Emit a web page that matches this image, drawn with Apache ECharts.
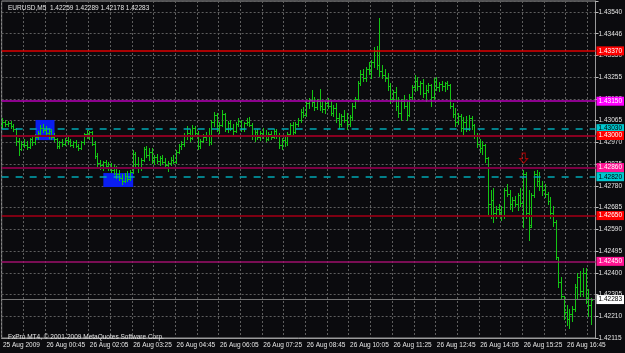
<!DOCTYPE html>
<html>
<head>
<meta charset="utf-8">
<script src="https://cdn.jsdelivr.net/npm/echarts@6/dist/echarts.min.js"></script>
<style>
  html, body { margin: 0; padding: 0; background: #0b0b0e; }
  #chart { width: 625px; height: 353px; }
</style>
</head>
<body>
<div id="chart"></div>
<script>
const symbolName = 'EURUSD,M5';
const copyright = 'FxPro MT4, \u00a9 2001-2009 MetaQuotes Software Corp.';

// one label every 16 bars (80 min of M5), first bar is 25 Aug 23:25
const timeLabels = ['25 Aug 2009', '26 Aug 00:45', '26 Aug 02:05', '26 Aug 03:25', '26 Aug 04:45',
  '26 Aug 06:05', '26 Aug 07:25', '26 Aug 08:45', '26 Aug 10:05', '26 Aug 11:25', '26 Aug 12:45',
  '26 Aug 14:05', '26 Aug 15:25', '26 Aug 16:45'];
const slotCount = 219;

const priceLabels = ['1.42115', '1.42210', '1.42305', '1.42400', '1.42495', '1.42590', '1.42685',
  '1.42780', '1.42875', '1.42970', '1.43065', '1.43160', '1.43255', '1.43350', '1.43446', '1.43540'];

// [open, high, low, close]
const ohlc = [
  [1.43046,1.43077,1.43033,1.43059],[1.43059,1.43068,1.43040,1.43050],[1.43050,1.43064,1.43042,1.43055],
  [1.43055,1.43062,1.43035,1.43040],[1.43040,1.43050,1.43020,1.43028],[1.43028,1.43035,1.42960,1.42975],
  [1.42975,1.42990,1.42915,1.42940],[1.42940,1.42975,1.42935,1.42965],[1.42965,1.42985,1.42950,1.42960],
  [1.42960,1.42975,1.42940,1.42950],[1.42950,1.42990,1.42945,1.42985],[1.42985,1.43000,1.42960,1.42970],
  [1.42970,1.43005,1.42965,1.42995],[1.42995,1.43020,1.42985,1.43010],[1.43010,1.43045,1.43000,1.43035],
  [1.43035,1.43050,1.43015,1.43025],[1.43025,1.43040,1.43000,1.43010],[1.43010,1.43035,1.42990,1.43020],
  [1.43020,1.43030,1.42985,1.42995],[1.42995,1.43010,1.42975,1.42985],[1.42985,1.42990,1.42945,1.42955],
  [1.42955,1.42975,1.42945,1.42970],[1.42970,1.42985,1.42955,1.42965],[1.42965,1.42990,1.42960,1.42980],
  [1.42980,1.42995,1.42965,1.42975],[1.42975,1.42985,1.42955,1.42960],[1.42960,1.42975,1.42950,1.42970],
  [1.42970,1.42980,1.42950,1.42955],[1.42955,1.42965,1.42935,1.42945],[1.42945,1.42975,1.42940,1.42970],
  [1.42970,1.43010,1.42965,1.43005],[1.43005,1.43025,1.42990,1.43000],[1.43000,1.43020,1.42985,1.43015],
  [1.43015,1.43020,1.42960,1.42965],[1.42965,1.42975,1.42900,1.42910],[1.42910,1.42925,1.42865,1.42880],
  [1.42880,1.42895,1.42855,1.42870],[1.42870,1.42890,1.42850,1.42885],[1.42885,1.42895,1.42860,1.42865],
  [1.42865,1.42885,1.42850,1.42875],[1.42875,1.42880,1.42840,1.42850],[1.42850,1.42870,1.42830,1.42860],
  [1.42860,1.42865,1.42815,1.42830],[1.42830,1.42850,1.42805,1.42815],[1.42815,1.42830,1.42790,1.42800],
  [1.42800,1.42835,1.42795,1.42825],[1.42825,1.42845,1.42800,1.42810],[1.42810,1.42850,1.42805,1.42840],
  [1.42840,1.42935,1.42835,1.42920],[1.42920,1.42930,1.42860,1.42875],[1.42875,1.42905,1.42840,1.42860],
  [1.42860,1.42900,1.42850,1.42895],[1.42895,1.42950,1.42890,1.42940],[1.42940,1.42955,1.42905,1.42915],
  [1.42915,1.42945,1.42895,1.42930],[1.42930,1.42945,1.42880,1.42895],[1.42895,1.42915,1.42875,1.42905],
  [1.42905,1.42920,1.42880,1.42890],[1.42890,1.42910,1.42870,1.42900],[1.42900,1.42915,1.42880,1.42885],
  [1.42885,1.42900,1.42860,1.42870],[1.42870,1.42890,1.42845,1.42880],[1.42880,1.42905,1.42870,1.42895],
  [1.42895,1.42915,1.42880,1.42885],[1.42885,1.42935,1.42880,1.42930],[1.42930,1.42965,1.42925,1.42955],
  [1.42955,1.42975,1.42940,1.42965],[1.42965,1.43010,1.42955,1.43000],[1.43000,1.43040,1.42985,1.43010],
  [1.43010,1.43030,1.42975,1.42990],[1.42990,1.43045,1.42985,1.43035],[1.43035,1.43040,1.43000,1.43010],
  [1.43010,1.43020,1.42940,1.42955],[1.42955,1.42985,1.42945,1.42975],[1.42975,1.43005,1.42970,1.42995],
  [1.42995,1.43015,1.42980,1.43000],[1.43000,1.43035,1.42960,1.42970],[1.42970,1.43070,1.42965,1.43060],
  [1.43060,1.43105,1.43040,1.43090],[1.43090,1.43100,1.43020,1.43035],[1.43035,1.43060,1.43010,1.43045],
  [1.43045,1.43110,1.43040,1.43095],[1.43095,1.43100,1.43020,1.43030],[1.43030,1.43065,1.43015,1.43055],
  [1.43055,1.43070,1.43025,1.43035],[1.43035,1.43050,1.43005,1.43020],[1.43020,1.43060,1.43015,1.43050],
  [1.43050,1.43075,1.43040,1.43065],[1.43065,1.43070,1.43020,1.43030],[1.43030,1.43060,1.43020,1.43055],
  [1.43055,1.43075,1.43045,1.43060],[1.43060,1.43080,1.43040,1.43045],[1.43045,1.43055,1.42985,1.43000],
  [1.43000,1.43025,1.42975,1.43015],[1.43015,1.43030,1.42985,1.42995],[1.42995,1.43020,1.42980,1.43010],
  [1.43010,1.43035,1.42990,1.43000],[1.43000,1.43025,1.42975,1.42985],[1.42985,1.43015,1.42980,1.43005],
  [1.43005,1.43020,1.42985,1.42995],[1.42995,1.43030,1.42990,1.43020],[1.43020,1.43030,1.42990,1.43000],
  [1.43000,1.43010,1.42945,1.42960],[1.42960,1.42990,1.42940,1.42980],[1.42980,1.43000,1.42955,1.42970],
  [1.42970,1.43015,1.42960,1.43005],[1.43005,1.43055,1.43000,1.43045],[1.43045,1.43060,1.43000,1.43015],
  [1.43015,1.43060,1.43010,1.43050],[1.43050,1.43075,1.43040,1.43070],[1.43070,1.43115,1.43060,1.43105],
  [1.43105,1.43125,1.43080,1.43090],[1.43090,1.43150,1.43085,1.43140],[1.43140,1.43165,1.43120,1.43155],
  [1.43155,1.43200,1.43130,1.43145],[1.43145,1.43170,1.43110,1.43125],[1.43125,1.43160,1.43115,1.43150],
  [1.43150,1.43205,1.43110,1.43130],[1.43130,1.43150,1.43105,1.43115],[1.43115,1.43150,1.43100,1.43140],
  [1.43140,1.43165,1.43120,1.43130],[1.43130,1.43150,1.43090,1.43100],[1.43100,1.43135,1.43085,1.43120],
  [1.43120,1.43140,1.43060,1.43075],[1.43075,1.43100,1.43035,1.43050],[1.43050,1.43095,1.43040,1.43085],
  [1.43085,1.43110,1.43060,1.43070],[1.43070,1.43100,1.43030,1.43050],[1.43050,1.43090,1.43040,1.43080],
  [1.43080,1.43140,1.43070,1.43130],[1.43130,1.43170,1.43120,1.43160],[1.43160,1.43240,1.43150,1.43230],
  [1.43230,1.43285,1.43220,1.43270],[1.43270,1.43290,1.43240,1.43250],[1.43250,1.43300,1.43240,1.43290],
  [1.43290,1.43320,1.43270,1.43280],[1.43280,1.43330,1.43250,1.43320],[1.43320,1.43385,1.43300,1.43370],
  [1.43370,1.43390,1.43290,1.43310],[1.43310,1.43514,1.43260,1.43280],[1.43280,1.43310,1.43250,1.43265],
  [1.43265,1.43290,1.43240,1.43250],[1.43250,1.43275,1.43200,1.43215],[1.43215,1.43230,1.43140,1.43160],
  [1.43160,1.43200,1.43150,1.43190],[1.43190,1.43210,1.43110,1.43130],[1.43130,1.43170,1.43080,1.43100],
  [1.43100,1.43160,1.43070,1.43150],[1.43150,1.43175,1.43120,1.43130],[1.43130,1.43150,1.43070,1.43090],
  [1.43090,1.43180,1.43085,1.43170],[1.43170,1.43220,1.43160,1.43210],[1.43210,1.43265,1.43195,1.43240],
  [1.43240,1.43255,1.43200,1.43215],[1.43215,1.43240,1.43180,1.43230],[1.43230,1.43245,1.43170,1.43185],
  [1.43185,1.43220,1.43150,1.43200],[1.43200,1.43230,1.43190,1.43220],[1.43220,1.43225,1.43130,1.43170],
  [1.43170,1.43250,1.43160,1.43240],[1.43240,1.43255,1.43200,1.43210],[1.43210,1.43235,1.43195,1.43225],
  [1.43225,1.43240,1.43200,1.43215],[1.43215,1.43235,1.43195,1.43230],[1.43230,1.43240,1.43205,1.43220],
  [1.43220,1.43225,1.43120,1.43130],[1.43130,1.43140,1.43080,1.43095],[1.43095,1.43120,1.43040,1.43060],
  [1.43060,1.43100,1.43050,1.43085],[1.43085,1.43095,1.43020,1.43035],[1.43035,1.43080,1.43000,1.43060],
  [1.43060,1.43085,1.43020,1.43030],[1.43030,1.43090,1.43025,1.43075],[1.43075,1.43085,1.43030,1.43045],
  [1.43045,1.43050,1.42990,1.43000],[1.43000,1.43010,1.42950,1.42965],[1.42965,1.42985,1.42930,1.42945],
  [1.42945,1.42975,1.42920,1.42960],[1.42960,1.42965,1.42885,1.42900],[1.42900,1.42905,1.42650,1.42700],
  [1.42700,1.42760,1.42640,1.42720],[1.42720,1.42770,1.42620,1.42660],[1.42660,1.42690,1.42640,1.42680],
  [1.42680,1.42700,1.42650,1.42665],[1.42665,1.42690,1.42630,1.42650],[1.42650,1.42770,1.42640,1.42760],
  [1.42760,1.42790,1.42735,1.42745],[1.42745,1.42760,1.42680,1.42700],[1.42700,1.42730,1.42670,1.42720],
  [1.42720,1.42735,1.42690,1.42700],[1.42700,1.42750,1.42675,1.42740],[1.42740,1.42770,1.42690,1.42705],
  [1.42705,1.42850,1.42600,1.42830],[1.42830,1.42840,1.42640,1.42660],[1.42660,1.42760,1.42545,1.42600],
  [1.42610,1.42750,1.42600,1.42740],[1.42740,1.42845,1.42730,1.42830],[1.42830,1.42850,1.42780,1.42800],
  [1.42800,1.42840,1.42760,1.42780],[1.42780,1.42800,1.42740,1.42760],[1.42760,1.42790,1.42730,1.42745],
  [1.42745,1.42755,1.42700,1.42715],[1.42715,1.42730,1.42640,1.42660],[1.42660,1.42690,1.42605,1.42620],
  [1.42620,1.42630,1.42460,1.42470],[1.42470,1.42470,1.42340,1.42360],[1.42360,1.42380,1.42285,1.42300],
  [1.42300,1.42300,1.42200,1.42230],[1.42230,1.42260,1.42170,1.42200],[1.42200,1.42240,1.42160,1.42220],
  [1.42220,1.42255,1.42190,1.42240],[1.42240,1.42350,1.42235,1.42340],[1.42340,1.42400,1.42290,1.42380],
  [1.42380,1.42410,1.42300,1.42320],[1.42320,1.42420,1.42300,1.42400],[1.42400,1.42420,1.42270,1.42290],
  [1.42290,1.42330,1.42210,1.42259],[1.42259,1.42289,1.42178,1.42283]
];

// horizontal levels drawn on the chart
const levelPrices = [1.43370, 1.43150, 1.43030, 1.43000, 1.42860, 1.42820, 1.42650, 1.42450, 1.42283];
const levelLineColors = ['#e00000', '#b800b8', '#00a8b4', '#880020', '#7a0042', '#00a8b4', '#7e0012', '#a0106c', '#747474'];
const levelLineTypes = ['solid', 'solid', [7, 7], 'solid', 'solid', [7, 7], 'solid', 'solid', 'solid'];
const levelLineWidths = [1.5, 1.5, 1.5, 2, 2, 1.5, 2, 1.5, 1.2];
const levelBoxColors = ['#ff0000', '#ff00ff', '#00c8d0', '#ff0000', '#ff1493', '#00c8d0', '#ff0000', '#ff1493', '#ffffff'];
const levelTextColors = ['#ffffff', '#ffffff', '#000000', '#ffffff', '#ffffff', '#000000', '#ffffff', '#ffffff', '#000000'];

// blue rectangles: [from bar, to bar, top price, bottom price]
const boxes = [[12, 19, 1.43068, 1.42980], [37, 48, 1.42836, 1.42775]];
// sell arrow
const arrowBar = 192;
const arrowPrice = 1.42901;

const cats = Array.from({ length: slotCount }, (_, i) => String(i));
const barData = ohlc.map((r, i) => [i, r[0], r[1], r[2], r[3]]);
const last = ohlc[ohlc.length - 1];
const header = symbolName + '  ' + last.map(v => v.toFixed(5)).join(' ');

const barColor = '#14c414';
const txt = '#e4e4e4';
const font = 'Liberation Sans';

function renderBar(params, api) {
  const idx = api.value(0);
  const px = api.coord([idx, api.value(2)]);
  const n = Math.floor(px[0]);
  const yO = Math.round(api.coord([idx, api.value(1)])[1]) + 0.5;
  const yH = Math.round(px[1]);
  const yL = Math.round(api.coord([idx, api.value(3)])[1]) + 1;
  const yC = Math.round(api.coord([idx, api.value(4)])[1]) + 0.5;
  const style = { stroke: barColor, lineWidth: 1 };
  return {
    type: 'group',
    children: [
      { type: 'line', shape: { x1: n + 0.5, y1: yH, x2: n + 0.5, y2: yL }, style: style },
      { type: 'line', shape: { x1: n - 1, y1: yO, x2: n, y2: yO }, style: style },
      { type: 'line', shape: { x1: n + 1, y1: yC, x2: n + 2, y2: yC }, style: style }
    ]
  };
}

const chart = echarts.init(document.getElementById('chart'));
chart.setOption({
  animation: false,
  backgroundColor: '#0b0b0e',
  title: [
    { text: header, left: 3, top: 0, textStyle: { color: txt, fontSize: 6.5, fontWeight: 'normal', fontFamily: font } },
    { text: copyright, left: 3, top: 329, textStyle: { color: txt, fontSize: 6.5, fontWeight: 'normal', fontFamily: font } }
  ],
  grid: { left: 1, right: 29, top: 1, bottom: 15, show: true, borderColor: '#9a9a9a', borderWidth: 1 },
  xAxis: {
    type: 'category',
    data: cats,
    boundaryGap: true,
    axisLine: { show: true, lineStyle: { color: '#9a9a9a' } },
    axisTick: { show: false },
    axisLabel: {
      interval: 15, color: txt, fontSize: 6.5, fontFamily: font, align: 'left', margin: 4,
      formatter: (v, i) => timeLabels[i / 16] || ''
    },
    splitLine: { show: true, interval: 7, lineStyle: { color: '#5e5e5e', type: [2, 2] } }
  },
  yAxis: {
    type: 'value',
    position: 'right',
    min: 1.42115,
    max: 1.43588,
    interval: 0.00095,
    axisLine: { show: true, lineStyle: { color: '#9a9a9a' } },
    axisTick: { show: true, length: 3, lineStyle: { color: '#bdbdbd' } },
    axisLabel: {
      color: txt, fontSize: 6.5, fontFamily: font, margin: 3,
      formatter: (v, i) => priceLabels[i] || ''
    },
    splitLine: { show: true, lineStyle: { color: '#5e5e5e', type: [2, 2] } }
  },
  series: [
    {
      type: 'line',
      data: [],
      z: 1,
      markArea: {
        silent: true,
        itemStyle: { color: '#0a1ef0' },
        data: boxes.map(b => [{ xAxis: String(b[0]), yAxis: b[2] }, { xAxis: String(b[1]), yAxis: b[3] }])
      }
    },
    {
      type: 'custom',
      z: 3,
      renderItem: renderBar,
      encode: { x: 0, y: [1, 2, 3, 4] },
      data: barData,
      clip: false
    },
    {
      type: 'line',
      data: [],
      z: 4,
      markLine: {
        silent: true,
        symbol: 'none',
        precision: 5,
        data: levelPrices.map((p, k) => ({
          yAxis: p,
          lineStyle: { color: levelLineColors[k], width: levelLineWidths[k], type: levelLineTypes[k] },
          label: {
            show: true, position: 'end', distance: 1, formatter: p.toFixed(5),
            backgroundColor: levelBoxColors[k], color: levelTextColors[k],
            fontSize: 6.5, fontFamily: font, padding: [1, 2, 1, 2]
          }
        }))
      }
    },
    {
      type: 'scatter',
      z: 5,
      data: [[arrowBar, arrowPrice]],
      symbol: 'path://M3,0 L7,0 L7,6 L10,6 L5,11 L0,6 L3,6 Z',
      symbolSize: [8, 10],
      itemStyle: { color: 'rgba(0,0,0,0)', borderColor: '#c80000', borderWidth: 1 }
    }
  ]
});
</script>
</body>
</html>
